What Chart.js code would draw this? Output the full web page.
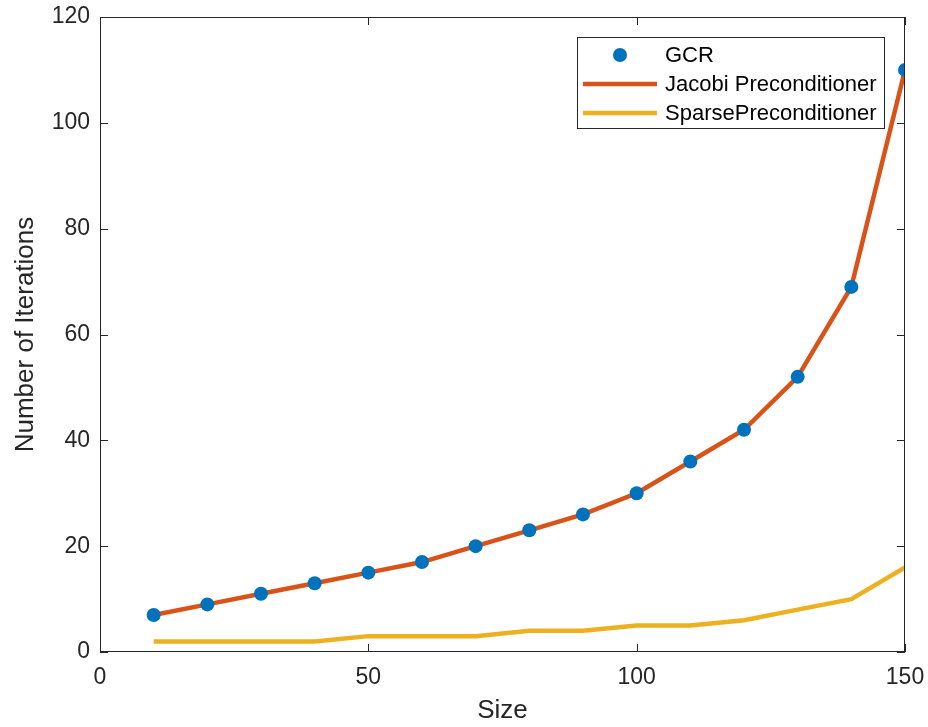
<!DOCTYPE html>
<html>
<head>
<meta charset="utf-8">
<script src="https://cdn.jsdelivr.net/npm/chart.js@4/dist/chart.umd.min.js"></script>
<style>
  html, body { margin: 0; padding: 0; background: #fff; }
  #wrap { width: 928px; height: 727px; }
</style>
</head>
<body>
<div id="wrap"><canvas id="chartCanvas" width="928" height="727"></canvas></div>
<script>
// problem sizes and iteration counts
var sizes = [10, 20, 30, 40, 50, 60, 70, 80, 90, 100, 110, 120, 130, 140, 150];
var gcrIters = [7, 9, 11, 13, 15, 17, 20, 23, 26, 30, 36, 42, 52, 69, 110];
var jacobiIters = [7, 9, 11, 13, 15, 17, 20, 23, 26, 30, 36, 42, 52, 69, 110];
var sparseIters = [2, 2, 2, 2, 3, 3, 3, 4, 4, 5, 5, 6, 8, 10, 16];
var xTicks = [0, 50, 100, 150];
var yTicks = [0, 20, 40, 60, 80, 100, 120];

var axisColor = '#262626';
var fontFamily = '"Liberation Sans", Arial, Helvetica, sans-serif';

function toPoints(xs, ys) {
	return xs.map(function (x, i) { return { x: x, y: ys[i] }; });
}

// keep the plot box fixed, labels may hang over the edges
function noOverhang(scale) {
	scale.paddingTop = 0;
	scale.paddingBottom = 0;
	scale.paddingLeft = 0;
	scale.paddingRight = 0;
}

// box around the plot with inward ticks on all four sides
var boxTicks = {
	id: 'boxTicks',
	afterDatasetsDraw: function (chart) {
		var ctx = chart.ctx;
		var a = chart.chartArea;
		var xs = chart.scales.x, ys = chart.scales.y;
		var len = 8;
		ctx.save();
		ctx.strokeStyle = axisColor;
		ctx.lineWidth = 1;
		ctx.strokeRect(a.left + 0.5, a.top + 0.5, a.right - a.left - 1, a.bottom - a.top - 1);
		ctx.beginPath();
		xTicks.forEach(function (v) {
			var px = Math.round(xs.getPixelForValue(v)) + 0.5;
			ctx.moveTo(px, a.bottom); ctx.lineTo(px, a.bottom - len);
			ctx.moveTo(px, a.top); ctx.lineTo(px, a.top + len);
		});
		yTicks.forEach(function (v) {
			var py = Math.round(ys.getPixelForValue(v)) + 0.5;
			ctx.moveTo(a.left, py); ctx.lineTo(a.left + len, py);
			ctx.moveTo(a.right, py); ctx.lineTo(a.right - len, py);
		});
		ctx.stroke();
		ctx.restore();
	}
};

// legend in a framed box at the top right
var boxLegend = {
	id: 'boxLegend',
	afterDraw: function (chart) {
		var ctx = chart.ctx;
		var x0 = 577, y0 = 37, w = 307, h = 91;
		ctx.save();
		ctx.fillStyle = '#fff';
		ctx.fillRect(x0, y0, w, h);
		ctx.strokeStyle = axisColor;
		ctx.lineWidth = 1;
		ctx.strokeRect(x0 + 0.5, y0 + 0.5, w, h);
		ctx.font = '22px ' + fontFamily;
		ctx.textBaseline = 'middle';
		chart.data.datasets.forEach(function (ds, i) {
			var cy = y0 + 18 + i * 29;
			if (ds.showLine === false) {
				ctx.fillStyle = ds.backgroundColor;
				ctx.beginPath();
				ctx.arc(620, cy, 7, 0, Math.PI * 2);
				ctx.fill();
			} else {
				ctx.strokeStyle = ds.borderColor;
				ctx.lineWidth = ds.borderWidth;
				ctx.beginPath();
				ctx.moveTo(583, cy); ctx.lineTo(657, cy);
				ctx.stroke();
			}
			ctx.fillStyle = '#000';
			ctx.fillText(ds.label, 665, cy + 1);
		});
		ctx.restore();
	}
};

var chartCanvas = document.getElementById('chartCanvas');
var chartObj = new Chart(chartCanvas, {
	type: 'scatter',
	data: {
		datasets: [
			{
				label: 'GCR',
				data: toPoints(sizes, gcrIters),
				showLine: false,
				backgroundColor: '#0072BD',
				borderColor: '#0072BD',
				pointRadius: 7,
				pointBorderWidth: 0,
				order: 0
			},
			{
				label: 'Jacobi Preconditioner',
				data: toPoints(sizes, jacobiIters),
				showLine: true,
				borderColor: '#D95319',
				backgroundColor: '#D95319',
				borderWidth: 4.5,
				pointRadius: 0,
				order: 1
			},
			{
				label: 'SparsePreconditioner',
				data: toPoints(sizes, sparseIters),
				showLine: true,
				borderColor: '#EDB120',
				backgroundColor: '#EDB120',
				borderWidth: 4.5,
				pointRadius: 0,
				order: 2
			}
		]
	},
	options: {
		responsive: false,
		animation: false,
		layout: { padding: { top: 17, right: 23, left: 0, bottom: 0 } },
		plugins: {
			legend: { display: false },
			tooltip: { enabled: false }
		},
		scales: {
			x: {
				type: 'linear',
				min: 0,
				max: 150,
				afterBuildTicks: function (scale) {
					scale.ticks = xTicks.map(function (v) { return { value: v }; });
				},
				afterFit: function (scale) { scale.height = 75; noOverhang(scale); },
				grid: { display: false, drawTicks: false },
				border: { display: false },
				ticks: {
					color: axisColor,
					padding: 12,
					maxRotation: 0,
					font: { family: fontFamily, size: 23 }
				},
				title: {
					display: true,
					text: 'Size',
					color: axisColor,
					padding: { top: 0, bottom: 1 },
					font: { family: fontFamily, size: 26 }
				}
			},
			y: {
				type: 'linear',
				min: 0,
				max: 120,
				afterBuildTicks: function (scale) {
					scale.ticks = yTicks.map(function (v) { return { value: v }; });
				},
				afterFit: function (scale) { scale.width = 100; noOverhang(scale); },
				grid: { display: false, drawTicks: false },
				border: { display: false },
				ticks: {
					color: axisColor,
					padding: 10,
					font: { family: fontFamily, size: 23 }
				},
				title: {
					display: true,
					text: 'Number of Iterations',
					color: axisColor,
					padding: { top: 10, bottom: 0 },
					font: { family: fontFamily, size: 26 }
				}
			}
		}
	},
	plugins: [boxTicks, boxLegend]
});
</script>
</body>
</html>
